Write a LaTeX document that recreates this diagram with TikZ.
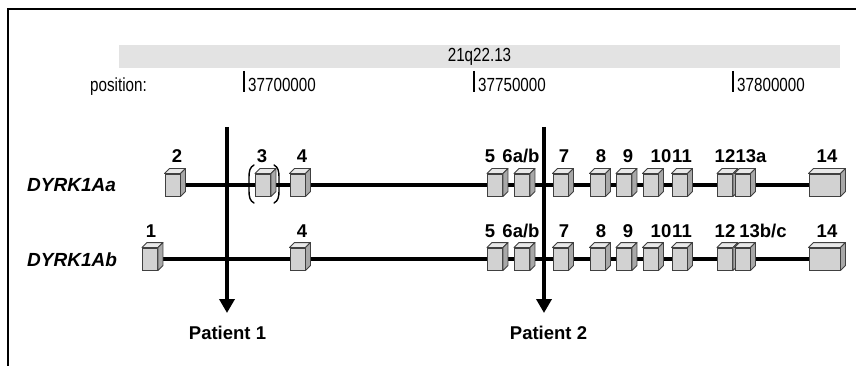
\documentclass[tikz,border=0pt]{standalone}
\usepackage{fontspec}
\setmainfont{Liberation Sans}
\newfontfamily\narrowfont[FakeStretch=0.8]{Liberation Sans}
\usetikzlibrary{arrows.meta,positioning,backgrounds}
\definecolor{exonfront}{HTML}{D2D2D2}
\definecolor{exontop}{HTML}{E8E8E8}
\definecolor{exonside}{HTML}{A8A8A8}
\definecolor{exonline}{HTML}{404040}
\tikzset{
  exon/.style = {
    draw=exonline, fill=exonfront, line width=0.9pt,
    inner sep=0pt, minimum height=22pt
  },
  topface/.style = {
    draw=exonline, fill=exontop, line width=0.9pt, line join=round
  },
  sideface/.style = {
    draw=exonline, fill=exonside, line width=0.9pt, line join=round
  },
  gene/.style = {
    line width=3.6pt
  },
  num/.style = {
    font=\fontsize{18.5}{20}\selectfont\bfseries, anchor=base, inner sep=0pt
  },
  isoform/.style = {
    font=\fontsize{19}{21}\selectfont\bfseries\itshape, anchor=base west, inner sep=0pt
  },
  scalelbl/.style = {
    font=\narrowfont\fontsize{19}{21}\selectfont, anchor=base west, inner sep=0pt
  },
  brk/.style = {
    line width=1.4pt, line cap=round
  },
  patient/.style = {
    ->, line width=3.6pt,
    >={Triangle[width=15pt,length=14pt]}
  },
  patlbl/.style = {
    font=\fontsize{18.5}{20}\selectfont\bfseries, anchor=base, inner sep=0pt
  }
}

\begin{document}
\begin{tikzpicture}[x=1pt, y=-1pt]
    \useasboundingbox (0,0) rectangle (856,366);
    \draw[line width=2pt] (856,9) -- (8,9) -- (8,366);

    % chromosome band and positions
    \node[fill=gray!22, minimum width=721pt, minimum height=23pt, inner sep=0pt,
          font=\narrowfont\fontsize{19}{21}\selectfont] (band) at (479.5,56.5) {21q22.13};
    \node[scalelbl] (poslbl) at (90,92) {position:};
    \foreach \x/\pos in {244/37700000, 474/37750000, 733/37800000} {
        \draw[line width=1.6pt] (\x,71) -- (\x,92);
        \node[scalelbl] (pos\pos) at (\x+4,92) {\pos};
    }

    % isoform names
    \node[isoform] (isoa) at (27,192) {DYRK1Aa};
    \node[isoform] (isob) at (27,266) {DYRK1Ab};

    % exons, row a and row b
    \foreach \row/\y/\list in {a/185/{2/172.5/15, 3/263/15, 4/297.5/15, 5/495/15, 6/522/15, 7/560.5/15, 8/597.5/15, 9/624/15, 10/650.5/15, 11/679.5/15, 12/725/15, 13/742.5/15, 14/824.5/31},
                               b/259/{1/150/15, 4/297.5/15, 5/495/15, 6/522/15, 7/560.5/15, 8/597.5/15, 9/624/15, 10/650.5/15, 11/679.5/15, 12/725/15, 13/742.5/15, 14/824.5/31}} {
        \foreach \e/\x/\w in \list {
            \node[exon, minimum width=\w] (e\e\row) at (\x,\y) {};
            \draw[topface] (e\e\row.north west) -- ([shift={(5,-5)}]e\e\row.north west)
                -- ([shift={(5,-5)}]e\e\row.north east) -- (e\e\row.north east) -- cycle;
            \draw[sideface] (e\e\row.north east) -- ([shift={(5,-5)}]e\e\row.north east)
                -- ([shift={(5,-5)}]e\e\row.south east) -- (e\e\row.south east) -- cycle;
        }
    }
    \begin{scope}[on background layer]
        \draw[gene] (e2a.center) -- (e14a.center);
        \draw[gene] (e1b.center) -- (e14b.center);
    \end{scope}

    % brackets round exon 3
    \draw[brk] (254,165) .. controls (250,167) and (249,171) .. (249,177) -- (249,191)
        .. controls (249,197) and (250,201) .. (254,203);
    \draw[brk] (274,165) .. controls (278,167) and (279,171) .. (279,177) -- (279,191)
        .. controls (279,197) and (278,201) .. (274,203);

    % exon numbers
    \foreach \x/\t in {177/2, 262/3, 302/4, 490/5, 521/{6a/b}, 564/7, 601/8, 628/9,
                       661/10, 682/11, 725/12, 751/13a, 827/14}
        \node[num] (la\x) at (\x,163) {\t};
    \foreach \x/\t in {151/1, 302/4, 490/5, 521/{6a/b}, 564/7, 601/8, 628/9,
                       661/10, 682/11, 725/12, 763/{13b/c}, 827/14}
        \node[num] (lb\x) at (\x,237) {\t};

    % breakpoints
    \coordinate (p1top) at (227,127);
    \coordinate (p1tip) at (227,313);
    \coordinate (p2top) at (544,127);
    \coordinate (p2tip) at (544,313);
    \node[patlbl] (pat1) at (227.5,339) {Patient 1};
    \node[patlbl] (pat2) at (548.5,339) {Patient 2};
    \draw[patient] (p1top) -- (p1tip);
    \draw[patient] (p2top) -- (p2tip);
\end{tikzpicture}
\end{document}
